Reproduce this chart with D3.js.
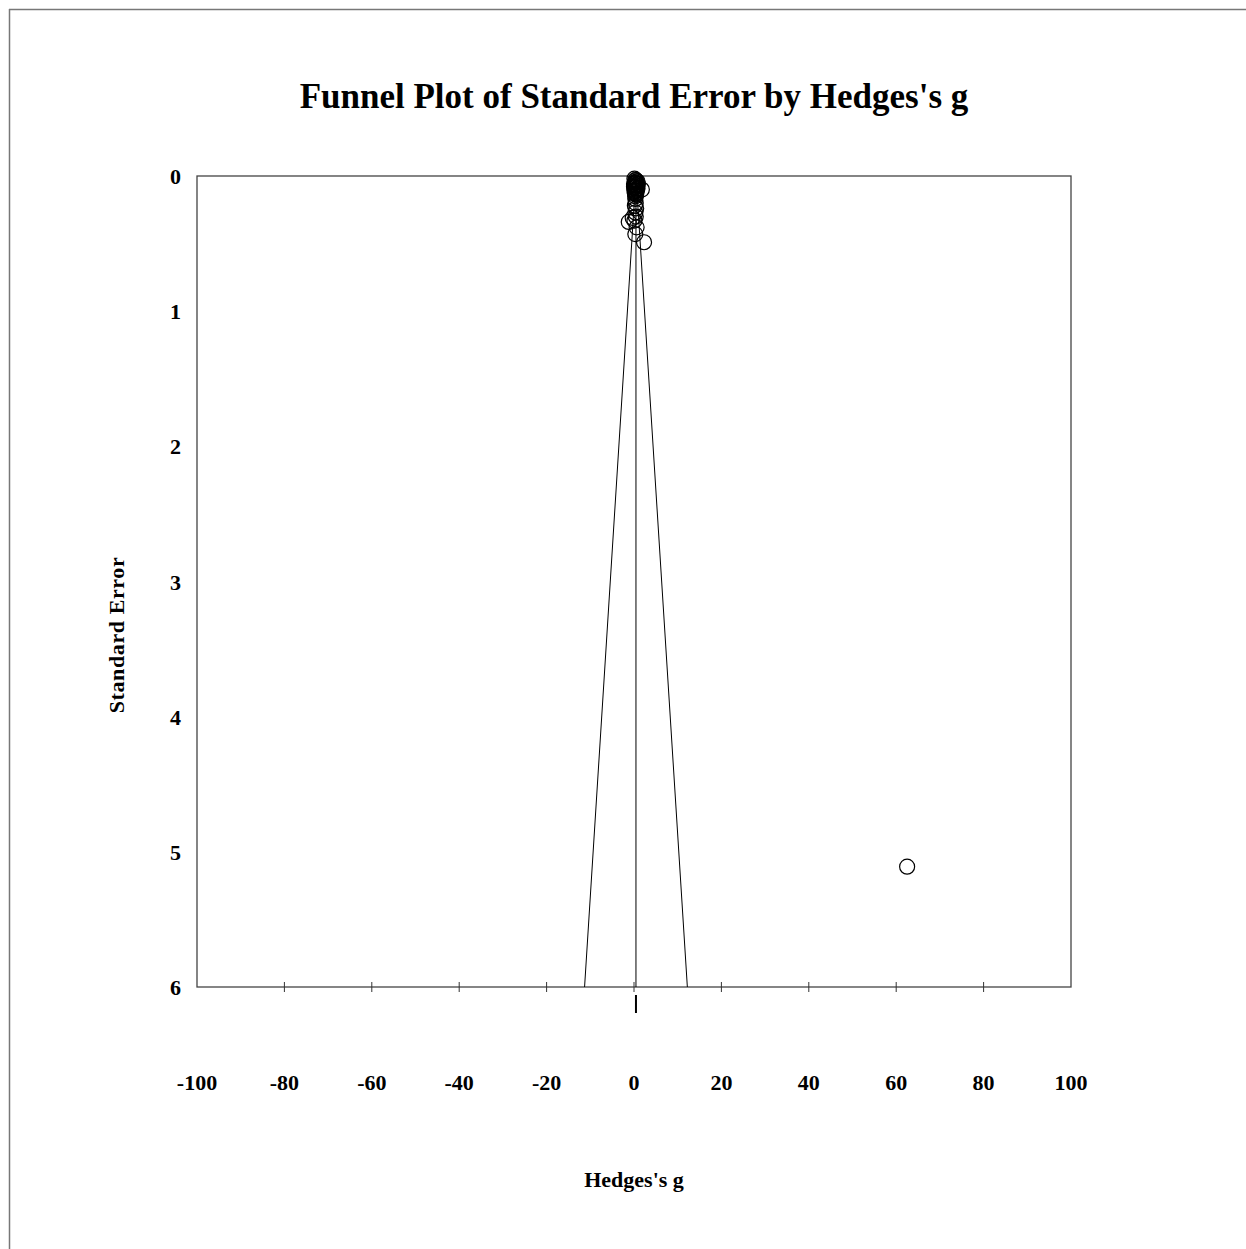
<!DOCTYPE html>
<html>
<head>
<meta charset="utf-8">
<script src="https://cdn.jsdelivr.net/npm/d3@7"></script>
<style>
  body { margin: 0; background: #fff; }
  text { font-family: "Liberation Serif", "Times New Roman", serif; font-weight: bold; fill: #000; }
</style>
</head>
<body>
<div id="chart-area"></div>
<script>
// study effect sizes (Hedges's g) and standard errors
var hedgesG = [0.1, 0.3, 0.5, 0.2, 0.4, 0.6, 0.0, 0.3, 0.5, 0.2, 0.7, 0.1, 0.4, 0.6, 0.3,
               0.8, 0.0, 0.9, 0.4, 0.7, 0.2, 0.6, 0.5, 0.1, 0.8, 0.3, 0.5,
               1.8, 0.2, 0.5, 0.3, 0.4, 0.2, 0.5, 0.3, 0.4, -0.3, 0.1, -1.2, 0.6, 0.3, 2.3, 62.5];
var stdErr  = [0.02, 0.03, 0.04, 0.05, 0.05, 0.06, 0.06, 0.07, 0.08, 0.08, 0.09, 0.09, 0.10, 0.11, 0.11,
               0.04, 0.08, 0.06, 0.03, 0.10, 0.12, 0.07, 0.13, 0.11, 0.09, 0.15, 0.05,
               0.10, 0.13, 0.14, 0.17, 0.20, 0.22, 0.24, 0.27, 0.30, 0.31, 0.33, 0.34, 0.38, 0.43, 0.49, 5.11];
var combinedG = 0.45;
var xTicks = [-100, -80, -60, -40, -20, 0, 20, 40, 60, 80, 100];
var yTicks = [0, 1, 2, 3, 4, 5, 6];

var width = 1246, height = 1249;
var svg = d3.select("#chart-area").append("svg")
      .attr("width", width)
      .attr("height", height);

// outer frame (only top and left edges show)
svg.append("line").attr("x1", 9).attr("y1", 9.5).attr("x2", width).attr("y2", 9.5)
    .attr("stroke", "#777").attr("stroke-width", 1.5);
svg.append("line").attr("x1", 9.5).attr("y1", 9).attr("x2", 9.5).attr("y2", height)
    .attr("stroke", "#777").attr("stroke-width", 1.5);

var x = d3.scaleLinear().domain([-100, 100]).range([197, 1071]);
var y = d3.scaleLinear().domain([0, 6]).range([176, 987]);

svg.append("text")
    .attr("x", 634).attr("y", 108)
    .attr("text-anchor", "middle")
    .style("font-size", "35px")
    .text("Funnel Plot of Standard Error by Hedges's g");

// plot box
svg.append("rect")
    .attr("x", x(-100)).attr("y", y(0))
    .attr("width", x(100) - x(-100)).attr("height", y(6) - y(0))
    .attr("fill", "none").attr("stroke", "#444").attr("stroke-width", 1.3);

// x ticks crossing the bottom edge
svg.selectAll(".xtick")
    .data(xTicks.slice(1, -1))
  .enter().append("line")
    .attr("class", "xtick")
    .attr("x1", function(d) { return x(d); })
    .attr("x2", function(d) { return x(d); })
    .attr("y1", y(6) - 5).attr("y2", y(6) + 5)
    .attr("stroke", "#333").attr("stroke-width", 1);

svg.selectAll(".xlab")
    .data(xTicks)
  .enter().append("text")
    .attr("class", "xlab")
    .attr("x", function(d) { return x(d); })
    .attr("y", 1090)
    .attr("text-anchor", "middle")
    .style("font-size", "22px")
    .text(function(d) { return d; });

svg.selectAll(".ylab")
    .data(yTicks)
  .enter().append("text")
    .attr("class", "ylab")
    .attr("x", 181)
    .attr("y", function(d) { return y(d) + 8; })
    .attr("text-anchor", "end")
    .style("font-size", "22px")
    .text(function(d) { return d; });

svg.append("text")
    .attr("transform", "translate(124,635) rotate(-90)")
    .attr("text-anchor", "middle")
    .style("font-size", "22px")
    .style("letter-spacing", "0.6px")
    .text("Standard Error");

svg.append("text")
    .attr("x", 634).attr("y", 1187)
    .attr("text-anchor", "middle")
    .style("font-size", "22px")
    .text("Hedges's g");

// funnel: combined effect +/- 1.96 SE
var funnel = d3.line()
    .x(function(d) { return x(d[0]); })
    .y(function(d) { return y(d[1]); });
svg.append("path")
    .attr("d", funnel([[combinedG - 1.96 * 6, 6], [combinedG, 0], [combinedG + 1.96 * 6, 6]]))
    .attr("fill", "none").attr("stroke", "#000").attr("stroke-width", 1);
svg.append("line")
    .attr("x1", x(combinedG)).attr("x2", x(combinedG))
    .attr("y1", y(0)).attr("y2", y(6))
    .attr("stroke", "#000").attr("stroke-width", 1);

// combined estimate marker under the axis
svg.append("line")
    .attr("x1", x(combinedG)).attr("x2", x(combinedG))
    .attr("y1", 995).attr("y2", 1013)
    .attr("stroke", "#000").attr("stroke-width", 2);

// studies
var studies = hedgesG.map(function(g, i) { return { g: g, se: stdErr[i] }; });
svg.selectAll("circle")
    .data(studies)
  .enter().append("circle")
    .attr("cx", function(d) { return x(d.g); })
    .attr("cy", function(d) { return y(d.se); })
    .attr("r", 7.5)
    .attr("fill", "none")
    .attr("stroke", "#000")
    .attr("stroke-width", 1.2);
</script>
</body>
</html>
